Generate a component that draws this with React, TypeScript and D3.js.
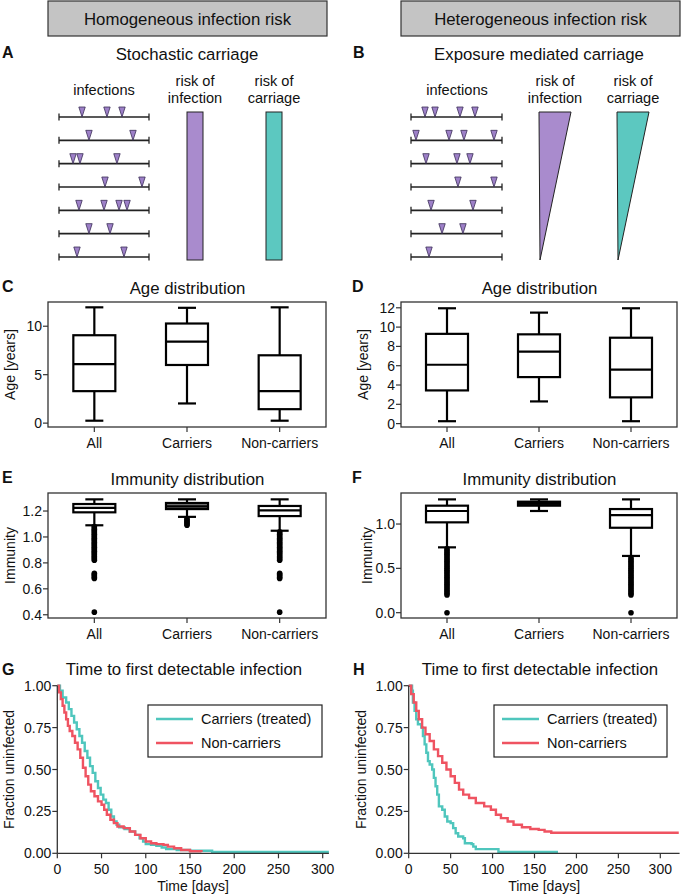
import React from 'react';
import * as d3 from 'd3';

const FONT = '"Liberation Sans", Arial, Helvetica, sans-serif';
const PURPLE = '#a98bcd';
const TEAL = '#5cc8c0';
const RED = '#ef5361';
const CURVE_TEAL = '#4fc6bd';
const INK = '#111';

// ---------- Schematic data (relative infection times along each life line) ----------
const infectionsA: number[][] = [
  [0.256, 0.533, 0.7],
  [0.333, 0.822],
  [0.156, 0.233, 0.644],
  [0.511, 0.922],
  [0.222, 0.5, 0.667, 0.756],
  [0.333, 0.567],
  [0.2, 0.722],
];
const infectionsB: number[][] = [
  [0.154, 0.264, 0.538, 0.703],
  [0.055, 0.418, 0.582, 0.912],
  [0.165, 0.505, 0.648],
  [0.516, 0.912],
  [0.22, 0.681],
  [0.341, 0.571],
  [0.198],
];

// ---------- Box plot data ----------
const boxCategories = ['All', 'Carriers', 'Non-carriers'];

// C: age, homogeneous
const ageHomLow = [0.25, 2.03, 0.25];
const ageHomQ1 = [3.3, 6.0, 1.44];
const ageHomMed = [6.08, 8.42, 3.3];
const ageHomQ3 = [9.07, 10.28, 7.0];
const ageHomHigh = [11.95, 11.9, 11.95];

// D: age, heterogeneous
const ageHetLow = [0.25, 2.3, 0.25];
const ageHetQ1 = [3.44, 4.82, 2.72];
const ageHetMed = [6.1, 7.45, 5.6];
const ageHetQ3 = [9.3, 9.25, 8.9];
const ageHetHigh = [11.95, 11.5, 11.95];

// E: immunity, homogeneous
const immHomLow = [1.09, 1.155, 1.048];
const immHomQ1 = [1.19, 1.215, 1.161];
const immHomMed = [1.225, 1.236, 1.205];
const immHomQ3 = [1.254, 1.262, 1.239];
const immHomHigh = [1.29, 1.29, 1.29];
const immHomOutAll = [1.08, 1.07, 1.06, 1.05, 1.04, 1.03, 1.02, 1.01, 1.0, 0.99, 0.98, 0.97, 0.96, 0.95, 0.94, 0.93, 0.92, 0.91, 0.9, 0.89, 0.88, 0.87, 0.86, 0.85, 0.84, 0.83, 0.82, 0.72, 0.71, 0.7, 0.69, 0.68, 0.42];
const immHomOutCar = [1.14, 1.13, 1.12, 1.11, 1.1, 1.09];
const immHomOutNon = [1.04, 1.03, 1.02, 1.01, 1.0, 0.99, 0.98, 0.97, 0.96, 0.95, 0.94, 0.93, 0.92, 0.91, 0.9, 0.89, 0.88, 0.87, 0.86, 0.85, 0.84, 0.83, 0.82, 0.72, 0.71, 0.7, 0.69, 0.68, 0.42];

// F: immunity, heterogeneous
const immHetLow = [0.737, 1.147, 0.64];
const immHetQ1 = [1.019, 1.207, 0.958];
const immHetMed = [1.147, 1.232, 1.1];
const immHetQ3 = [1.207, 1.252, 1.169];
const immHetHigh = [1.278, 1.278, 1.278];
const immHetOutAll = [0.72, 0.7, 0.68, 0.66, 0.64, 0.62, 0.6, 0.58, 0.56, 0.54, 0.52, 0.5, 0.48, 0.46, 0.44, 0.42, 0.4, 0.38, 0.36, 0.34, 0.32, 0.3, 0.28, 0.26, 0.24, 0.22, 0.2, 0.0];
const immHetOutCar: number[] = [];
const immHetOutNon = [0.62, 0.6, 0.58, 0.56, 0.54, 0.52, 0.5, 0.48, 0.46, 0.44, 0.42, 0.4, 0.38, 0.36, 0.34, 0.32, 0.3, 0.28, 0.26, 0.24, 0.22, 0.2, 0.0];

// ---------- Survival curves ----------
const survTicksX = [0, 50, 100, 150, 200, 250, 300];
const survTicksY = [0, 0.25, 0.5, 0.75, 1.0];
const legendLabels = ['Carriers (treated)', 'Non-carriers'];

const gTealT = [0, 3, 6, 10, 13, 16, 19, 22, 25, 28, 31, 34, 37, 40, 43, 46, 49, 52, 55, 58, 61, 64, 67, 70, 76, 82, 88, 93, 97, 100, 106, 112, 118, 123, 135, 150, 175, 307];
const gTealS = [1.0, 0.97, 0.93, 0.9, 0.86, 0.82, 0.78, 0.74, 0.7, 0.66, 0.61, 0.57, 0.52, 0.48, 0.43, 0.39, 0.35, 0.32, 0.3, 0.26, 0.22, 0.19, 0.17, 0.155, 0.145, 0.13, 0.11, 0.09, 0.07, 0.055, 0.05, 0.045, 0.035, 0.025, 0.02, 0.015, 0.008, 0.008];
const gRedT = [0, 2, 4, 6, 8, 10, 12, 14, 17, 20, 23, 26, 29, 32, 35, 38, 42, 46, 50, 53, 56, 60, 64, 68, 75, 82, 88, 94, 100, 106, 112, 120, 125, 132, 140, 150, 163];
const gRedS = [1.0, 0.96, 0.92, 0.88, 0.84, 0.8, 0.76, 0.73, 0.7, 0.66, 0.62, 0.57, 0.51, 0.46, 0.41, 0.37, 0.34, 0.31, 0.29, 0.26, 0.23, 0.2, 0.18, 0.16, 0.15, 0.13, 0.11, 0.09, 0.07, 0.06, 0.055, 0.05, 0.04, 0.03, 0.02, 0.012, 0.008];

const hTealT = [0, 4, 5, 7, 9, 11, 15, 17, 19, 21, 23, 25, 28, 30, 32, 34, 36, 40, 43, 46, 50, 53, 56, 59, 65, 67, 75, 77, 80, 107, 178];
const hTealS = [1.0, 0.97, 0.9, 0.85, 0.8, 0.77, 0.75, 0.7, 0.65, 0.6, 0.55, 0.53, 0.5, 0.45, 0.4, 0.35, 0.28, 0.26, 0.22, 0.19, 0.18, 0.15, 0.12, 0.1, 0.09, 0.06, 0.055, 0.04, 0.025, 0.008, 0.008];
const hRedT = [0, 3, 6, 9, 12, 16, 20, 25, 30, 35, 40, 45, 50, 55, 60, 65, 72, 80, 90, 98, 104, 110, 118, 125, 135, 145, 155, 162, 170, 322];
const hRedS = [1.0, 0.95, 0.9, 0.85, 0.8, 0.75, 0.71, 0.67, 0.62, 0.58, 0.54, 0.5, 0.46, 0.42, 0.38, 0.35, 0.33, 0.3, 0.28, 0.26, 0.23, 0.21, 0.19, 0.17, 0.155, 0.145, 0.14, 0.13, 0.123, 0.123];

// ---------- Components ----------
function Header({ x, y, w, h, text }: any) {
  return (
    <g>
      <rect x={x} y={y} width={w} height={h} fill="#c4c4c4" stroke="#333" strokeWidth={1.2} />
      <text x={x + w / 2} y={y + 24} textAnchor="middle" fontSize={16.8} fill={INK}>{text}</text>
    </g>
  );
}

function Schematic({ lineX0, lineX1, rows, hetero, infX, riskX, carX, label, labelX, title, titleX }: any) {
  const rowScale = d3.scaleLinear().domain([0, 6]).range([117, 257]);
  const tScale = d3.scaleLinear().domain([0, 1]).range([lineX0, lineX1]);
  const top = 112, bottom = 260, bw = 16;
  return (
    <g>
      <text x={labelX} y={58} fontSize={16} fontWeight="bold" fill={INK}>{label}</text>
      <text x={titleX} y={60} fontSize={16.8} textAnchor="middle" fill={INK}>{title}</text>
      <text x={infX} y={95} fontSize={14.6} textAnchor="middle" fill={INK}>infections</text>
      <text x={riskX} y={86} fontSize={14.6} textAnchor="middle" fill={INK}>risk of</text>
      <text x={riskX} y={103} fontSize={14.6} textAnchor="middle" fill={INK}>infection</text>
      <text x={carX} y={86} fontSize={14.6} textAnchor="middle" fill={INK}>risk of</text>
      <text x={carX} y={103} fontSize={14.6} textAnchor="middle" fill={INK}>carriage</text>
      {rows.map((r: number[], i: number) => {
        const y = rowScale(i);
        return (
          <g key={i}>
            <line x1={lineX0} x2={lineX1} y1={y} y2={y} stroke="#222" strokeWidth={1.6} />
            <line x1={lineX0} x2={lineX0} y1={y - 3.5} y2={y + 3.5} stroke="#222" strokeWidth={1.3} />
            <line x1={lineX1} x2={lineX1} y1={y - 3.5} y2={y + 3.5} stroke="#222" strokeWidth={1.3} />
            {r.map((t, j) => {
              const x = tScale(t);
              return <path key={j} d={`M${x - 3.2},${y - 10}L${x + 3.2},${y - 10}L${x},${y}Z`} fill="#9d80c8" stroke="#3a2d55" strokeWidth={0.8} />;
            })}
          </g>
        );
      })}
      {hetero ? (
        <g>
          <path d={`M${riskX - bw},${top}L${riskX + bw},${top}L${riskX - bw + 1},${bottom}Z`} fill={PURPLE} stroke="#222" strokeWidth={1} />
          <path d={`M${carX - bw},${top}L${carX + bw},${top}L${carX - bw + 1},${bottom}Z`} fill={TEAL} stroke="#222" strokeWidth={1} />
        </g>
      ) : (
        <g>
          <rect x={riskX - bw / 2} y={top} width={bw} height={bottom - top} fill={PURPLE} stroke="#222" strokeWidth={1} />
          <rect x={carX - bw / 2} y={top} width={bw} height={bottom - top} fill={TEAL} stroke="#222" strokeWidth={1} />
        </g>
      )}
    </g>
  );
}

function BoxPanel({ left, right, top, bottom, domain, ticks, fmt, low, q1, med, q3, high, outliers, fills, yLabel, yLabelX, title, label, labelX }: any) {
  const y = d3.scaleLinear().domain(domain).range([bottom, top]);
  const x = d3.scalePoint<string>().domain(boxCategories).range([left, right]).padding(0.5);
  const bw = 42, cw = 18;
  return (
    <g>
      <text x={labelX} y={top - 10} fontSize={16} fontWeight="bold" fill={INK}>{label}</text>
      <text x={(left + right) / 2 + 0.5} y={top - 8} fontSize={16.8} textAnchor="middle" fill={INK}>{title}</text>
      <rect x={left} y={top} width={right - left} height={bottom - top} fill="none" stroke="#333" strokeWidth={1.3} />
      {ticks.map((t: number) => (
        <g key={t}>
          <line x1={left - 5} x2={left} y1={y(t)} y2={y(t)} stroke="#333" strokeWidth={1.2} />
          <text x={left - 6} y={y(t)} dy="0.36em" fontSize={14} textAnchor="end" fill={INK}>{fmt(t)}</text>
        </g>
      ))}
      <text transform={`translate(${yLabelX},${(top + bottom) / 2}) rotate(-90)`} fontSize={14} textAnchor="middle" fill={INK}>{yLabel}</text>
      {boxCategories.map((c, i) => {
        const cx = x(c) as number;
        return (
          <g key={c}>
            <line x1={cx} x2={cx} y1={bottom} y2={bottom + 5} stroke="#333" strokeWidth={1.2} />
            <text x={cx} y={bottom + 21} fontSize={14} textAnchor="middle" fill={INK}>{c}</text>
            {outliers[i].map((v: number, k: number) => (
              <circle key={k} cx={cx} cy={y(v)} r={2.8} fill="#000" />
            ))}
            <line x1={cx} x2={cx} y1={y(high[i])} y2={y(q3[i])} stroke="#000" strokeWidth={2.2} />
            <line x1={cx} x2={cx} y1={y(q1[i])} y2={y(low[i])} stroke="#000" strokeWidth={2.2} />
            <line x1={cx - cw / 2} x2={cx + cw / 2} y1={y(high[i])} y2={y(high[i])} stroke="#000" strokeWidth={2.2} />
            <line x1={cx - cw / 2} x2={cx + cw / 2} y1={y(low[i])} y2={y(low[i])} stroke="#000" strokeWidth={2.2} />
            <rect x={cx - bw / 2} y={y(q3[i])} width={bw} height={y(q1[i]) - y(q3[i])} fill={fills ? fills[i] : '#fff'} stroke="#000" strokeWidth={2.2} />
            <line x1={cx - bw / 2} x2={cx + bw / 2} y1={y(med[i])} y2={y(med[i])} stroke="#000" strokeWidth={2.2} />
          </g>
        );
      })}
    </g>
  );
}

function SurvPanel({ x0, x300, maxDay, label, labelX, title, titleX, yLabelX, series, legendX, legendW }: any) {
  const yTop = 685.7, yBottom = 853.3;
  const x = d3.scaleLinear().domain([0, 300]).range([x0, x300]);
  const y = d3.scaleLinear().domain([0, 1]).range([yBottom, yTop]);
  const line = d3.line<[number, number]>().x(d => x(d[0])).y(d => y(d[1])).curve(d3.curveStepAfter);
  const fmt = d3.format('.2f');
  const ly = 705, lh = 52;
  return (
    <g>
      <text x={labelX} y={675} fontSize={16} fontWeight="bold" fill={INK}>{label}</text>
      <text x={titleX} y={675} fontSize={16.8} textAnchor="middle" fill={INK}>{title}</text>
      {series.map((s: any, i: number) => (
        <path key={i} d={line(s.t.map((t: number, k: number) => [t, s.s[k]]) as any) || ''} fill="none" stroke={s.color} strokeWidth={2.4} />
      ))}
      <line x1={x0} x2={x0} y1={yTop} y2={yBottom} stroke="#333" strokeWidth={1.3} />
      <line x1={x0} x2={x(maxDay)} y1={yBottom} y2={yBottom} stroke="#333" strokeWidth={1.3} />
      {survTicksY.map(t => (
        <g key={t}>
          <line x1={x0 - 5} x2={x0} y1={y(t)} y2={y(t)} stroke="#333" strokeWidth={1.2} />
          <text x={x0 - 6} y={y(t)} dy="0.36em" fontSize={14} textAnchor="end" fill={INK}>{fmt(t)}</text>
        </g>
      ))}
      {survTicksX.map(t => (
        <g key={t}>
          <line x1={x(t)} x2={x(t)} y1={yBottom} y2={yBottom + 5} stroke="#333" strokeWidth={1.2} />
          <text x={x(t)} y={yBottom + 21} fontSize={14} textAnchor="middle" fill={INK}>{t}</text>
        </g>
      ))}
      <text x={(x0 + x(maxDay)) / 2} y={891} fontSize={14} textAnchor="middle" fill={INK}>Time [days]</text>
      <text transform={`translate(${yLabelX},${(yTop + yBottom) / 2}) rotate(-90)`} fontSize={14} textAnchor="middle" fill={INK}>Fraction uninfected</text>
      <rect x={legendX} y={ly} width={legendW} height={lh} fill="#fff" stroke="#222" strokeWidth={1.2} />
      {series.map((s: any, i: number) => (
        <g key={i}>
          <line x1={legendX + 8} x2={legendX + 45} y1={ly + 14 + i * 24} y2={ly + 14 + i * 24} stroke={s.color} strokeWidth={2.4} />
          <text x={legendX + 53} y={ly + 14 + i * 24} dy="0.36em" fontSize={14.5} fill={INK}>{legendLabels[i]}</text>
        </g>
      ))}
    </g>
  );
}

export default function App() {
  const fmtAge = d3.format('d');
  const fmt1 = d3.format('.1f');
  return (
    <svg width={685} height={894} style={{ position: 'absolute', left: 0, top: 0, background: '#fff' }} fontFamily={FONT}>
      <rect x={0} y={0} width={685} height={894} fill="#fff" />
      <Header x={48} y={1} w={279} h={35} text="Homogeneous infection risk" />
      <Header x={401} y={1} w={279} h={35} text="Heterogeneous infection risk" />

      <Schematic lineX0={59} lineX1={149} rows={infectionsA} hetero={false} infX={104} riskX={195} carX={274}
        label="A" labelX={2} title="Stochastic carriage" titleX={187} />
      <Schematic lineX0={411} lineX1={502} rows={infectionsB} hetero={true} infX={457} riskX={555} carX={633}
        label="B" labelX={353} title="Exposure mediated carriage" titleX={539} />

      <BoxPanel left={48} right={326} top={302} bottom={427} domain={[-0.4, 12.5]} ticks={[0, 5, 10]} fmt={fmtAge}
        low={ageHomLow} q1={ageHomQ1} med={ageHomMed} q3={ageHomQ3} high={ageHomHigh} outliers={[[], [], []]}
        yLabel="Age [years]" yLabelX={15} title="Age distribution" label="C" labelX={2} />
      <BoxPanel left={401} right={677} top={302} bottom={427} domain={[-0.35, 12.6]} ticks={[0, 2, 4, 6, 8, 10, 12]} fmt={fmtAge}
        low={ageHetLow} q1={ageHetQ1} med={ageHetMed} q3={ageHetQ3} high={ageHetHigh} outliers={[[], [], []]}
        yLabel="Age [years]" yLabelX={368} title="Age distribution" label="D" labelX={352} />

      <BoxPanel left={48} right={326} top={493} bottom={618} domain={[0.375, 1.339]} ticks={[0.4, 0.6, 0.8, 1.0, 1.2]} fmt={fmt1}
        low={immHomLow} q1={immHomQ1} med={immHomMed} q3={immHomQ3} high={immHomHigh} outliers={[immHomOutAll, immHomOutCar, immHomOutNon]}
        fills={['#fff', '#777', '#fff']}
        yLabel="Immunity" yLabelX={15} title="Immunity distribution" label="E" labelX={2} />
      <BoxPanel left={401} right={677} top={493} bottom={618} domain={[-0.06, 1.35]} ticks={[0, 0.5, 1.0]} fmt={fmt1}
        low={immHetLow} q1={immHetQ1} med={immHetMed} q3={immHetQ3} high={immHetHigh} outliers={[immHetOutAll, immHetOutCar, immHetOutNon]}
        fills={['#fff', '#111', '#fff']}
        yLabel="Immunity" yLabelX={372} title="Immunity distribution" label="F" labelX={352} />

      <SurvPanel x0={57.3} x300={322.7} maxDay={307} label="G" labelX={2} title="Time to first detectable infection" titleX={184}
        yLabelX={14} legendX={148} legendW={174}
        series={[{ t: gTealT, s: gTealS, color: CURVE_TEAL }, { t: gRedT, s: gRedS, color: RED }]} />
      <SurvPanel x0={408.7} x300={660.3} maxDay={323} label="H" labelX={353} title="Time to first detectable infection" titleX={540}
        yLabelX={366} legendX={494} legendW={173}
        series={[{ t: hTealT, s: hTealS, color: CURVE_TEAL }, { t: hRedT, s: hRedS, color: RED }]} />
    </svg>
  );
}
